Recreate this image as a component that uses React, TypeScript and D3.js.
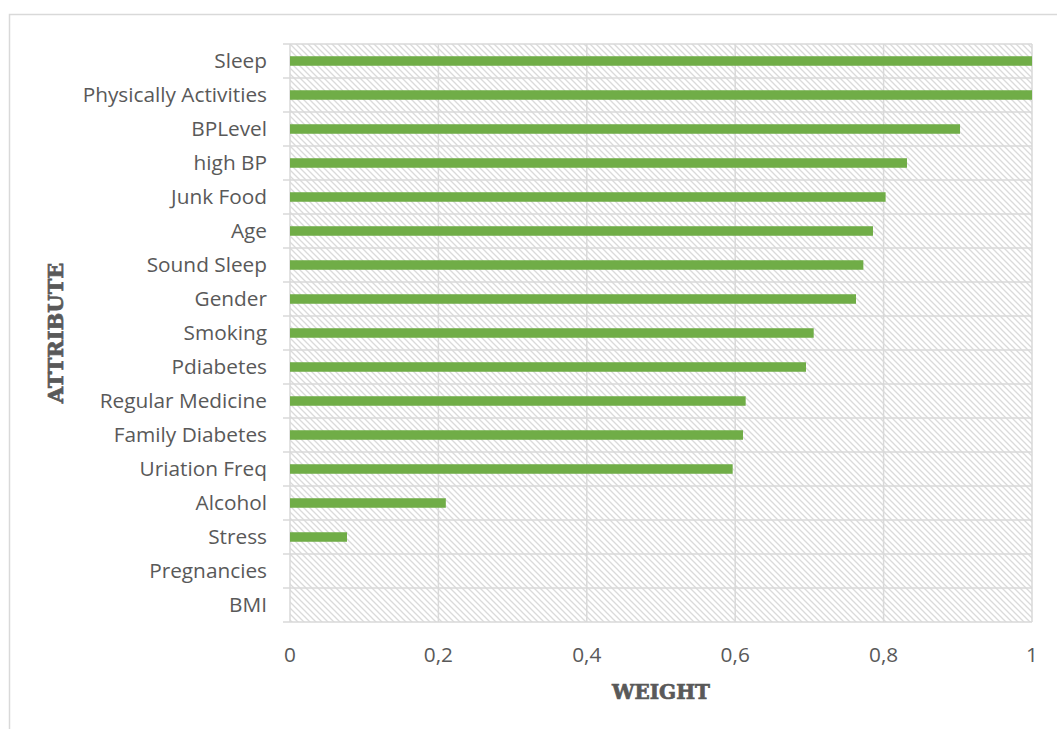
import React from "react";
import * as d3 from "d3";

const categories: string[] = [
  "Sleep",
  "Physically Activities",
  "BPLevel",
  "high BP",
  "Junk Food",
  "Age",
  "Sound Sleep",
  "Gender",
  "Smoking",
  "Pdiabetes",
  "Regular Medicine",
  "Family Diabetes",
  "Uriation Freq",
  "Alcohol",
  "Stress",
  "Pregnancies",
  "BMI",
];

const weights: number[] = [
  1.0, 1.0, 0.903, 0.8315, 0.8027, 0.7857, 0.7727, 0.7628, 0.7058, 0.6954,
  0.6141, 0.6105, 0.5966, 0.21, 0.0768, 0, 0,
];

const xTicks: number[] = [0, 0.2, 0.4, 0.6, 0.8, 1];
const xTickLabels: string[] = ["0", "0,2", "0,4", "0,6", "0,8", "1"];

const W = 1057;
const H = 729;
const M = { left: 290, right: 1032, top: 44, bottom: 622 };

const GRID = "#d9d9d9";
const TEXT = "#595959";
const BAR = "#70AD47";
const LABEL_FONT = "'Open Sans', 'Noto Sans', sans-serif";
const TITLE_FONT = "'DejaVu Serif', 'Liberation Serif', serif";

export default function App() {
  const x = d3.scaleLinear().domain([0, 1]).range([M.left, M.right]);
  const rows = d3
    .scaleBand<string>()
    .domain(categories)
    .range([M.top, M.bottom])
    .padding(0);
  const bars = d3
    .scaleBand<string>()
    .domain(categories)
    .range([M.top, M.bottom])
    .paddingInner(0.72)
    .paddingOuter(0.36);

  const boundaries = d3.range(categories.length + 1).map((i) => M.top + i * rows.step());

  return (
    <svg
      width={W}
      height={H}
      style={{ position: "absolute", left: 0, top: 0, display: "block", background: "#fff" }}
    >
      <defs>
        <pattern id="hatch" width={6} height={6} patternUnits="userSpaceOnUse">
          <rect width={6} height={6} fill="#ffffff" />
          <path d="M-1,-1 L7,7 M-1,5 L1,7 M5,-1 L7,1" stroke="#dadada" strokeWidth={1.3} />
        </pattern>
      </defs>
      {/* chart frame */}
      <rect x={9.5} y={14.5} width={1200} height={900} fill="none" stroke={GRID} strokeWidth={1.5} />

      {/* plot background */}
      <rect
        x={M.left}
        y={M.top}
        width={M.right - M.left}
        height={M.bottom - M.top}
        fill="url(#hatch)"
      />

      {/* vertical gridlines */}
      {xTicks.map((t) => (
        <line
          key={"v" + t}
          x1={x(t)}
          x2={x(t)}
          y1={M.top}
          y2={M.bottom}
          stroke={GRID}
          strokeWidth={1.5}
        />
      ))}
      {/* horizontal gridlines */}
      {boundaries.map((y, i) => (
        <line
          key={"h" + i}
          x1={M.left - 7}
          x2={M.right}
          y1={y}
          y2={y}
          stroke={GRID}
          strokeWidth={1.5}
        />
      ))}

      {/* bars */}
      {categories.map((c, i) =>
        weights[i] > 0 ? (
          <rect
            key={c}
            x={x(0)}
            y={bars(c)}
            width={x(weights[i]) - x(0)}
            height={bars.bandwidth()}
            fill={BAR}
          />
        ) : null
      )}

      {/* category labels */}
      {categories.map((c) => (
        <text
          key={"l" + c}
          x={M.left - 23}
          y={(rows(c) as number) + rows.bandwidth() / 2}
          dy="0.36em"
          textAnchor="end"
          fontFamily={LABEL_FONT}
          fontSize={20.8}
          fill={TEXT}
        >
          {c}
        </text>
      ))}

      {/* x tick labels */}
      {xTicks.map((t, i) => (
        <text
          key={"t" + t}
          x={x(t)}
          y={662}
          textAnchor="middle"
          fontFamily={LABEL_FONT}
          fontSize={20.8}
          fill={TEXT}
        >
          {xTickLabels[i]}
        </text>
      ))}

      {/* axis titles */}
      <text
        x={(M.left + M.right) / 2}
        y={699}
        textAnchor="middle"
        fontFamily={TITLE_FONT}
        fontWeight="bold"
        fontSize={20}
        fill={TEXT}
        stroke={TEXT}
        strokeWidth={0.7}
      >
        WEIGHT
      </text>
      <text
        transform={`translate(${63},${(M.top + M.bottom) / 2}) rotate(-90)`}
        textAnchor="middle"
        fontFamily={TITLE_FONT}
        fontWeight="bold"
        fontSize={21}
        fill={TEXT}
        stroke={TEXT}
        strokeWidth={0.7}
      >
        ATTRIBUTE
      </text>
    </svg>
  );
}
